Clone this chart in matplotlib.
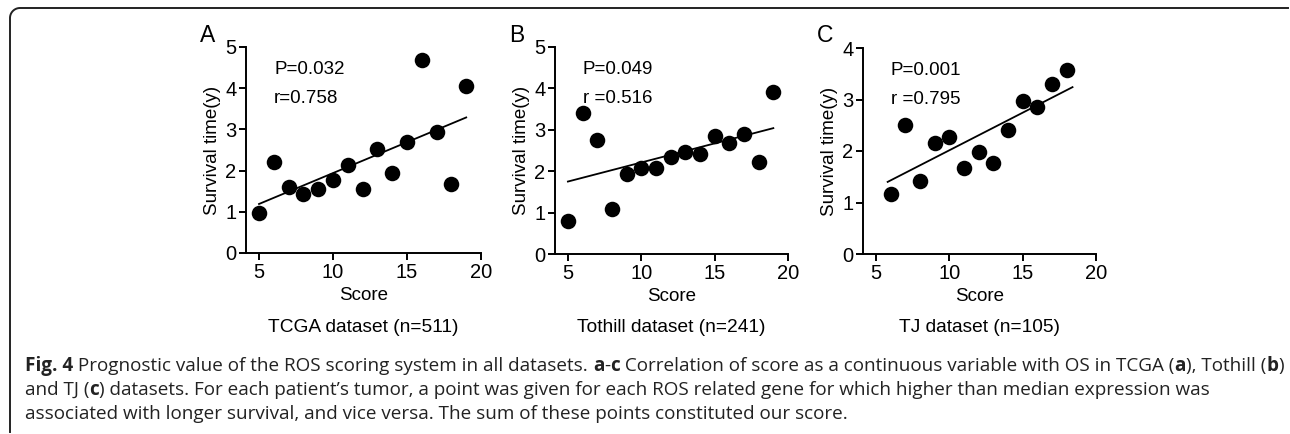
import numpy as np
import matplotlib
matplotlib.use("Agg")
import matplotlib.pyplot as plt
from matplotlib.lines import Line2D

# ---------------- data ----------------
scores_a = [5, 6, 7, 8, 9, 10, 11, 12, 13, 14, 15, 16, 17, 18, 19]
surv_a = [0.98, 2.22, 1.60, 1.44, 1.56, 1.77, 2.14, 1.56, 2.53, 1.93, 2.69, 4.69, 2.94, 1.67, 4.06]
fit_x_a = [5, 19]
fit_y_a = [1.19, 3.29]

scores_b = [5, 6, 7, 8, 9, 10, 11, 12, 13, 14, 15, 16, 17, 18, 19]
surv_b = [0.79, 3.41, 2.75, 1.09, 1.93, 2.07, 2.07, 2.34, 2.46, 2.42, 2.84, 2.67, 2.91, 2.22, 3.91]
fit_x_b = [5, 19]
fit_y_b = [1.75, 3.04]

scores_c = [6, 7, 8, 9, 10, 11, 12, 13, 14, 15, 16, 17, 18]
surv_c = [1.16, 2.50, 1.41, 2.16, 2.28, 1.67, 1.98, 1.76, 2.41, 2.98, 2.85, 3.30, 3.58]
fit_x_c = [5.8, 18.4]
fit_y_c = [1.40, 3.24]

panel_letters = ["A", "B", "C"]
p_texts = ["P=0.032", "P=0.049", "P=0.001"]
r_texts = ["r=0.758", "r =0.516", "r =0.795"]
dataset_labels = ["TCGA dataset (n=511)", "Tothill dataset (n=241)", "TJ dataset (n=105)"]
x_ticks = [5, 10, 15, 20]
y_ticks_ab = [0, 1, 2, 3, 4, 5]
y_ticks_c = [0, 1, 2, 3, 4]

W, H = 1290, 434
fig = plt.figure(figsize=(W / 100, H / 100), dpi=100)
font = "Liberation Sans"

def px(x0, y0, x1, y1):
    # axes rect from pixel box (left, top, right, bottom)
    return [x0 / W, 1 - y1 / H, (x1 - x0) / W, (y1 - y0) / H]

rects = [px(246, 47, 481, 253), px(555, 47, 788, 254), px(863, 48, 1096, 254)]
datasets = [
    (scores_a, surv_a, fit_x_a, fit_y_a, y_ticks_ab, 5),
    (scores_b, surv_b, fit_x_b, fit_y_b, y_ticks_ab, 5),
    (scores_c, surv_c, fit_x_c, fit_y_c, y_ticks_c, 4),
]

for i, (rect, (xs, ys, fx, fy, yt, ymax)) in enumerate(zip(rects, datasets)):
    ax = fig.add_axes(rect)
    ax.scatter(xs, ys, s=125, color="black", zorder=3, linewidths=0)
    ax.plot(fx, fy, color="black", lw=1.3, zorder=2)
    ax.set_xlim(4.12, 20)
    ax.set_ylim(0, ymax)
    ax.set_xticks(x_ticks)
    ax.set_yticks(yt)
    for s in ["top", "right"]:
        ax.spines[s].set_visible(False)
    for s in ["left", "bottom"]:
        ax.spines[s].set_linewidth(1.4)
    ax.tick_params(direction="out", length=5, width=1.4, labelsize=14.5, pad=2)
    for lab in ax.get_xticklabels() + ax.get_yticklabels():
        lab.set_fontfamily(font)
    ax.set_xlabel("Score", fontsize=13.5, family=font, labelpad=4)
    ax.set_ylabel("Survival time(y)", fontsize=13.5, family=font, labelpad=3)
    ax.text(0.12, 0.89, p_texts[i], transform=ax.transAxes, fontsize=13.5, family=font, va="center")
    ax.text(0.12, 0.75, r_texts[i], transform=ax.transAxes, fontsize=13.5, family=font, va="center")
    fig.text((rect[0] * W - 46) / W, 1 - 35 / H, panel_letters[i], fontsize=16.5, family=font, va="center")
    cx_lab = rect[0] + rect[2] / 2
    fig.text(cx_lab, 1 - 328 / H, dataset_labels[i], fontsize=13.8,
             family=font, va="center", ha="center")

# ---------------- caption with mixed bold ----------------
cap_font = "Open Sans"
lines = [
    [("Fig. 4", True), (" Prognostic value of the ROS scoring system in all datasets. ", False),
     ("a", True), ("-", False), ("c", True),
     (" Correlation of score as a continuous variable with OS in TCGA (", False), ("a", True),
     ("), Tothill (", False), ("b", True), (")", False)],
    [("and TJ (", False), ("c", True),
     (") datasets. For each patient\u2019s tumor, a point was given for each ROS related gene for which higher than median expression was", False)],
    [("associated with longer survival, and vice versa. The sum of these points constituted our score.", False)],
]
line_y = [366, 390, 414]
cap_x0, cap_x1 = 25, 1272

fig.canvas.draw()
renderer = fig.canvas.get_renderer()

def draw_line(segs, yy, size, keep=True):
    x = cap_x0
    made = []
    for txt, bold in segs:
        t = fig.text(x / W, 1 - yy / H, txt, fontsize=size, family=cap_font,
                     fontweight="bold" if bold else "normal", va="center", ha="left", color="#222222")
        x += t.get_window_extent(renderer=renderer).width
        made.append(t)
    if not keep:
        for t in made:
            t.remove()
    return x

base = 13.0
end = draw_line(lines[0], line_y[0], base, keep=False)
cap_size = base * (cap_x1 - cap_x0) / (end - cap_x0)
for segs, yy in zip(lines, line_y):
    draw_line(segs, yy, cap_size)

# ---------------- border (rounded top-left corner) ----------------
r = 10
theta = np.linspace(np.pi, np.pi / 2, 20)
cx, cy = 10 + r, 8 + r
arc_x = cx + r * np.cos(theta)
arc_y = cy - r * np.sin(theta)
bx = np.concatenate([[10], arc_x, [1288]])
by = np.concatenate([[432], arc_y, [8]])
fig.add_artist(Line2D(bx / W, 1 - by / H, color="#222222", lw=1.4, transform=fig.transFigure))

fig.savefig("out.png", dpi=100)
